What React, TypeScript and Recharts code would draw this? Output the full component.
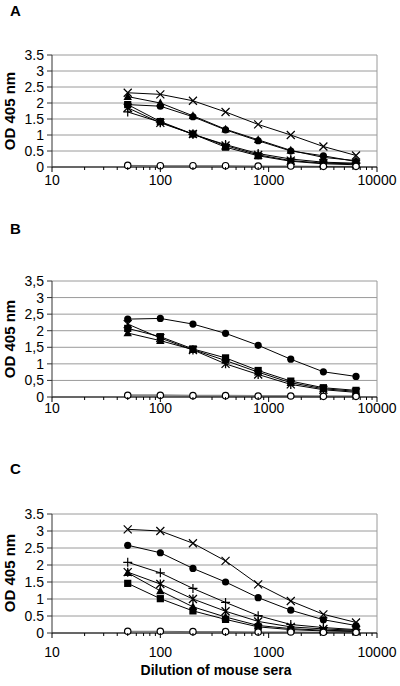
import { LineChart, Line, XAxis, YAxis, CartesianGrid, ReferenceLine } from "recharts";

const dilutions = [50, 100, 200, 400, 800, 1600, 3200, 6400];
const majorTicks = [10, 100, 1000, 10000];
const xTicks = [
  10, 20, 30, 40, 50, 60, 70, 80, 90,
  100, 200, 300, 400, 500, 600, 700, 800, 900,
  1000, 2000, 3000, 4000, 5000, 6000, 7000, 8000, 9000, 10000,
];
const yTicks = [0, 0.5, 1, 1.5, 2, 2.5, 3, 3.5];

// panel A
const aCross = [2.32, 2.27, 2.07, 1.72, 1.33, 1.0, 0.64, 0.36];
const aTriangle = [2.2, 2.0, 1.6, 1.18, 0.85, 0.52, 0.3, 0.2];
const aCircle = [1.95, 1.9, 1.57, 1.16, 0.82, 0.5, 0.35, 0.17];
const aSquare = [1.95, 1.42, 1.03, 0.62, 0.35, 0.18, 0.1, 0.07];
const aStar = [1.85, 1.38, 1.03, 0.67, 0.38, 0.2, 0.12, 0.1];
const aPlus = [1.72, 1.4, 1.02, 0.7, 0.42, 0.25, 0.15, 0.12];
const aOpen = [0.05, 0.04, 0.04, 0.04, 0.03, 0.03, 0.02, 0.02];

// panel B
const bCircle = [2.35, 2.37, 2.2, 1.92, 1.56, 1.14, 0.76, 0.62];
const bStar = [2.2, 1.78, 1.42, 1.0, 0.68, 0.38, 0.22, 0.14];
const bSquare = [2.07, 1.82, 1.45, 1.18, 0.8, 0.48, 0.28, 0.2];
const bTriangle = [1.93, 1.7, 1.43, 1.1, 0.75, 0.43, 0.25, 0.17];
const bOpen = [0.05, 0.05, 0.04, 0.04, 0.03, 0.03, 0.02, 0.02];

// panel C
const cCross = [3.05, 3.0, 2.64, 2.12, 1.43, 0.94, 0.55, 0.31];
const cCircle = [2.58, 2.36, 1.9, 1.5, 1.04, 0.67, 0.39, 0.22];
const cPlus = [2.08, 1.77, 1.31, 0.9, 0.51, 0.25, 0.16, 0.1];
const cStar = [1.79, 1.44, 1.0, 0.64, 0.34, 0.18, 0.12, 0.08];
const cTriangle = [1.77, 1.24, 0.77, 0.47, 0.22, 0.13, 0.08, 0.06];
const cSquare = [1.46, 1.01, 0.65, 0.4, 0.18, 0.1, 0.06, 0.04];
const cOpen = [0.05, 0.05, 0.04, 0.04, 0.03, 0.03, 0.02, 0.02];

type Series = { key: string; shape: string; values: number[]; stroke?: string; width?: number };

const panelA: Series[] = [
  { key: "cross", shape: "cross", values: aCross },
  { key: "triangle", shape: "triangle", values: aTriangle },
  { key: "circle", shape: "circle", values: aCircle },
  { key: "plus", shape: "plus", values: aPlus },
  { key: "star", shape: "star", values: aStar },
  { key: "square", shape: "square", values: aSquare },
  { key: "open", shape: "open", values: aOpen, stroke: "#666" },
];
const panelB: Series[] = [
  { key: "circle", shape: "circle", values: bCircle },
  { key: "star", shape: "star", values: bStar },
  { key: "triangle", shape: "triangle", values: bTriangle },
  { key: "square", shape: "square", values: bSquare },
  { key: "open", shape: "open", values: bOpen, stroke: "#888", width: 2 },
];
const panelC: Series[] = [
  { key: "cross", shape: "cross", values: cCross },
  { key: "circle", shape: "circle", values: cCircle },
  { key: "plus", shape: "plus", values: cPlus },
  { key: "star", shape: "star", values: cStar },
  { key: "triangle", shape: "triangle", values: cTriangle },
  { key: "square", shape: "square", values: cSquare },
  { key: "open", shape: "open", values: cOpen, stroke: "#666" },
];

const FONT = "'Liberation Sans', Arial, sans-serif";

function Marker({ cx, cy, shape }: { cx: number; cy: number; shape: string }) {
  if (cx == null || cy == null) return null;
  const k = "#000";
  switch (shape) {
    case "circle":
      return <circle cx={cx} cy={cy} r={3.6} fill={k} />;
    case "open":
      return <circle cx={cx} cy={cy} r={3.2} fill="#fff" stroke={k} strokeWidth={1.2} />;
    case "square":
      return <rect x={cx - 3.6} y={cy - 3.6} width={7.2} height={7.2} fill={k} />;
    case "triangle":
      return <polygon points={`${cx},${cy - 4.5} ${cx + 4.2},${cy + 3.3} ${cx - 4.2},${cy + 3.3}`} fill={k} />;
    case "cross":
      return (
        <path d={`M${cx - 4},${cy - 4}L${cx + 4},${cy + 4}M${cx + 4},${cy - 4}L${cx - 4},${cy + 4}`} stroke={k} strokeWidth={1.2} />
      );
    case "plus":
      return <path d={`M${cx - 4.5},${cy}L${cx + 4.5},${cy}M${cx},${cy - 4.5}L${cx},${cy + 4.5}`} stroke={k} strokeWidth={1.2} />;
    case "star":
      return (
        <path
          d={`M${cx - 4},${cy - 4}L${cx + 4},${cy + 4}M${cx + 4},${cy - 4}L${cx - 4},${cy + 4}M${cx},${cy - 4.5}L${cx},${cy + 4.5}`}
          stroke={k}
          strokeWidth={1.3}
        />
      );
    default:
      return null;
  }
}

function makeXTick(labelGap: number) {
  return (props: any) => {
    const { x, y, payload } = props;
    const major = majorTicks.includes(payload.value);
    return (
      <g>
        <line x1={x} x2={x} y1={y} y2={y + (major ? 5 : 3)} stroke="#000" strokeWidth={1} />
        {major && (
          <text x={x} y={y + labelGap} dy="0.36em" textAnchor="middle" fontSize={14} fill="#000" fontFamily={FONT}>
            {payload.value}
          </text>
        )}
      </g>
    );
  };
}

function Panel({
  series,
  plotHeight,
  comma,
  labelGap,
}: {
  series: Series[];
  plotHeight: number;
  comma?: boolean;
  labelGap: number;
}) {
  const rows = dilutions.map((d, i) => {
    const row: any = { dil: d };
    series.forEach((s) => (row[s.key] = s.values[i]));
    return row;
  });
  const axisH = labelGap + 14;
  return (
    <LineChart width={400} height={10 + plotHeight + axisH} data={rows} margin={{ top: 10, right: 23, bottom: 0, left: 0 }}>
      <CartesianGrid horizontal vertical={false} stroke="#9a9a9a" />
      <ReferenceLine x={10000} stroke="#9a9a9a" />
      <XAxis
        dataKey="dil"
        type="number"
        scale="log"
        domain={[10, 10000]}
        ticks={xTicks}
        interval={0}
        tickSize={0}
        tickMargin={0}
        tickLine={false}
        tick={makeXTick(labelGap)}
        stroke="#000"
        height={axisH}
        allowDataOverflow
      />
      <YAxis
        domain={[0, 3.5]}
        ticks={yTicks}
        width={52}
        tickSize={5}
        tickMargin={3}
        stroke="#333"
        tick={{ fill: "#000", fontSize: 14, fontFamily: FONT }}
        tickFormatter={(v: number) => (comma ? String(v).replace(".", ",") : String(v))}
        interval={0}
      />
      {series.map((s) => (
        <Line
          key={s.key}
          type="linear"
          dataKey={s.key}
          stroke={s.stroke ?? "#000"}
          strokeWidth={s.width ?? 1}
          isAnimationActive={false}
          dot={(p: any) => <Marker key={`${s.key}-${p.index}`} cx={p.cx} cy={p.cy} shape={s.shape} />}
          activeDot={false}
        />
      ))}
    </LineChart>
  );
}

const titleStyle: React.CSSProperties = {
  position: "absolute",
  left: 10,
  fontFamily: FONT,
  fontWeight: "bold",
  fontSize: 15,
  lineHeight: "15px",
};

function YLabel({ centerY }: { centerY: number }) {
  return (
    <div
      style={{
        position: "absolute",
        left: 9,
        top: centerY,
        transform: "translate(-50%, -50%) rotate(-90deg)",
        fontFamily: FONT,
        fontWeight: "bold",
        fontSize: 15,
        whiteSpace: "nowrap",
      }}
    >
      OD 405 nm
    </div>
  );
}

export default function App() {
  return (
    <div style={{ position: "absolute", left: 0, top: 0, width: 400, height: 686, background: "#fff" }}>
      <div style={{ ...titleStyle, top: 3 }}>A</div>
      <div style={{ ...titleStyle, top: 221 }}>B</div>
      <div style={{ ...titleStyle, top: 461 }}>C</div>

      <div style={{ position: "absolute", left: 0, top: 45 }}>
        <Panel series={panelA} plotHeight={112} labelGap={13} />
      </div>
      <div style={{ position: "absolute", left: 0, top: 271 }}>
        <Panel series={panelB} plotHeight={116} comma labelGap={11} />
      </div>
      <div style={{ position: "absolute", left: 0, top: 504 }}>
        <Panel series={panelC} plotHeight={119} labelGap={19} />
      </div>

      <YLabel centerY={111} />
      <YLabel centerY={339} />
      <YLabel centerY={573} />

      <div
        style={{
          position: "absolute",
          left: 216,
          top: 670,
          transform: "translate(-50%, -50%)",
          fontFamily: FONT,
          fontWeight: "bold",
          fontSize: 14,
          whiteSpace: "nowrap",
        }}
      >
        Dilution of mouse sera
      </div>
    </div>
  );
}
